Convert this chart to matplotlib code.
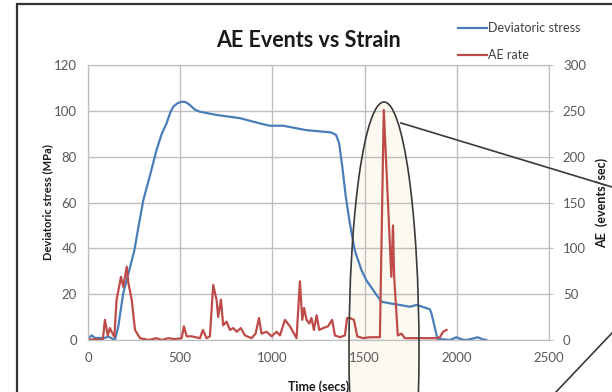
import matplotlib
matplotlib.use("Agg")
import matplotlib.pyplot as plt
from matplotlib.patches import Ellipse, Rectangle
from matplotlib.lines import Line2D

plt.rcParams['font.family'] = ['Lato', 'DejaVu Sans']

# deviatoric stress (MPa) vs time (secs)
stress_t = [0, 20, 38, 92, 110, 146, 164, 191, 219, 251, 275, 300, 340, 372,
            400, 426, 445, 462, 485, 508, 530, 553, 580, 607, 698, 788, 824,
            932, 986, 1059, 1181, 1317, 1345, 1362, 1380, 1398, 1420, 1447,
            1483, 1510, 1565, 1592, 1637, 1691, 1745, 1782, 1817, 1854, 1863,
            1895, 1908, 1935, 1962, 1998, 2030, 2052, 2085, 2114, 2140, 2161]
stress = [0.5, 2, 0.9, 0.9, 1.5, 0, 5.8, 20.4, 29, 39, 50, 61, 73, 83,
          90, 94.5, 99, 101.8, 103.3, 104, 103.8, 102.5, 100.5, 99.6, 98.2, 97.2, 96.8,
          94.5, 93.5, 93.5, 91.6, 90.6, 89.5, 85.8, 75, 62.5, 50.9, 39,
          30.5, 26, 19.6, 16.7, 16, 15.3, 14.5, 15.3, 14.4, 13.4, 11.5,
          0.5, 0.5, 0.2, 0, 1.2, 0.2, 0, 0.6, 1.2, 0.3, 0]

# AE rate (events/sec) vs time (secs)
ae_t = [0, 40, 80, 92, 107, 119, 128, 143, 155, 179, 191, 210, 219, 237, 255,
        282, 330, 372, 400, 434, 470, 508, 520, 535, 562, 607, 623, 643, 661,
        679, 697, 706, 721, 733, 751, 770, 788, 806, 829, 851, 887, 909, 927,
        941, 968, 996, 1023, 1041, 1068, 1095, 1131, 1149, 1162, 1172, 1185,
        1200, 1212, 1225, 1240, 1254, 1275, 1302, 1324, 1339, 1366, 1393, 1405,
        1420, 1442, 1460, 1492, 1528, 1565, 1583, 1604, 1645, 1654, 1660, 1680,
        1700, 1718, 1760, 1799, 1850, 1890, 1908, 1926, 1944]
ae_rate = [0, 1, 0, 22, 5, 13, 9, 3.6, 44, 69, 58, 80, 62, 44, 11,
           2, 0, 2, 0, 2, 1, 2, 15, 4, 4, 2, 11, 2, 4,
           60, 44, 25, 44, 16, 20, 11, 13, 9, 13, 5, 2, 7, 24,
           7, 9, 4, 9, 5, 22, 15, 2, 64, 22, 35, 22,
           18, 24, 11, 27, 11, 13, 15, 22, 5, 3, 5, 24,
           24, 22, 4, 2, 3, 3, 3, 251, 69, 125, 70, 5,
           7, 2, 2, 2, 2, 2, 3, 9, 11]

blue = '#4A7EBB'
red = '#BE4B48'
grid_c = '#BFBFBF'
tick_c = '#595959'

fig = plt.figure(figsize=(6.12, 3.92), dpi=100)

# outer chart frame
fig.add_artist(Rectangle((17 / 612, -0.1), 1.2, 1 - 4 / 392 + 0.1, fill=False,
                         edgecolor='#333333', lw=1.6, transform=fig.transFigure, zorder=-2))

# highlight ellipse (fill behind the axes, outline on top)
ell_c = (384 / 612, 42 / 392)
ell_w, ell_h = 70 / 612, 496 / 392
fig.add_artist(Ellipse(ell_c, ell_w, ell_h, facecolor='#FBF9F0', edgecolor='none',
                       transform=fig.transFigure, zorder=-1))

ax = fig.add_axes([88 / 612, 52 / 392, 461 / 612, 275 / 392])
ax.set_facecolor('none')
ax2 = ax.twinx()

l1, = ax.plot(stress_t, stress, color=blue, lw=1.6, label='Deviatoric stress')
l2, = ax2.plot(ae_t, ae_rate, color=red, lw=1.6, label='AE rate')

ax.set_xlim(0, 2500)
ax.set_ylim(0, 120)
ax2.set_ylim(0, 300)
ax.set_xticks(range(0, 2501, 500))
ax.set_yticks(range(0, 121, 20))
ax2.set_yticks(range(0, 301, 50))

ax.grid(True, color=grid_c, lw=1)
for a in (ax, ax2):
    for s in a.spines.values():
        s.set_color(grid_c)
ax.tick_params(axis='both', length=0, labelsize=9.5, colors=tick_c, pad=8)
ax.tick_params(axis='x', pad=9)
ax2.tick_params(axis='y', length=3, color=grid_c, labelsize=9.5, colors=tick_c, pad=7)

ax.set_xlabel('Time (secs)', fontsize=9, fontweight='bold', color='#1a1a1a')
ax.xaxis.set_label_coords(0.5, -0.145)
ax.set_ylabel('Deviatoric stress (MPa)', fontsize=8, fontweight='bold', color='#1a1a1a')
ax.yaxis.set_label_coords(-0.076, 0.5)
ax2.set_ylabel('AE  (events/sec)', fontsize=9, fontweight='bold', color='#1a1a1a')
ax2.yaxis.set_label_coords(1.1, 0.5)

fig.text(308 / 612, 1 - 47 / 392, 'AE Events vs Strain', ha='center', va='baseline',
         fontsize=15.5, fontweight='bold', color='#1a1a1a')

fig.legend(handles=[l1, l2], loc='upper left', bbox_to_anchor=(458 / 612, 1 - 22 / 392),
           frameon=False, fontsize=9, handlelength=2.3, handletextpad=0.1,
           borderpad=0, borderaxespad=0, labelspacing=1.2, labelcolor='#404040')

# ellipse outline and callout lines
fig.add_artist(Ellipse(ell_c, ell_w, ell_h, facecolor='none', edgecolor='#3a3a3a',
                       lw=1.2, transform=fig.transFigure, zorder=5))
fig.add_artist(Line2D([401 / 612, 1.0], [1 - 123 / 392, 1 - 187 / 392], color='#3a3a3a',
                      lw=1.2, transform=fig.transFigure, zorder=5))
fig.add_artist(Line2D([556 / 612, 1.0], [0, 1 - 333 / 392], color='#3a3a3a',
                      lw=1.2, transform=fig.transFigure, zorder=5))

fig.savefig('out.png', dpi=100)
